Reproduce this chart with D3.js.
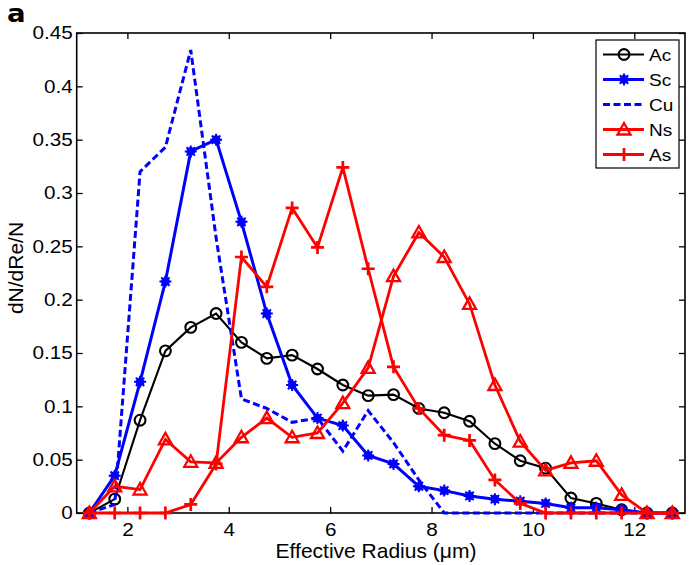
<!DOCTYPE html>
<html>
<head>
<meta charset="utf-8">
<script src="https://cdn.jsdelivr.net/npm/d3@7"></script>
<style>
  body { margin: 0; background: #fff; }
  text { font-family: "Liberation Sans", Arial, sans-serif; fill: #000; }
  text.panel { font-family: "DejaVu Sans", sans-serif; font-weight: bold; }
</style>
</head>
<body>
<script>
// effective radius bin centres (um)
var radius = [1.25, 1.75, 2.25, 2.75, 3.25, 3.75, 4.25, 4.75, 5.25, 5.75, 6.25, 6.75,
              7.25, 7.75, 8.25, 8.75, 9.25, 9.75, 10.25, 10.75, 11.25, 11.75, 12.25, 12.75];

// normalised size distributions
var acValues = [0, 0.013, 0.087, 0.152, 0.174, 0.187, 0.160, 0.145, 0.148, 0.135, 0.120, 0.110,
                0.111, 0.098, 0.094, 0.086, 0.065, 0.049, 0.042, 0.014, 0.009, 0.003, 0, 0];
var scValues = [0, 0.035, 0.123, 0.217, 0.339, 0.350, 0.273, 0.187, 0.120, 0.089, 0.082, 0.054,
                0.046, 0.025, 0.021, 0.016, 0.013, 0.011, 0.009, 0.005, 0.005, 0.003, 0, 0];
var cuValues = [0, 0.008, 0.320, 0.343, 0.434, 0.258, 0.107, 0.098, 0.085, 0.089, 0.058, 0.096,
                0.066, 0.031, 0, 0, 0, 0, 0, 0, 0, 0, 0, 0];
var nsValues = [0, 0.025, 0.022, 0.069, 0.048, 0.047, 0.071, 0.089, 0.071, 0.075, 0.103, 0.136,
                0.222, 0.263, 0.240, 0.196, 0.120, 0.067, 0.040, 0.047, 0.049, 0.017, 0, 0];
var asValues = [0, 0, 0, 0, 0.008, 0.046, 0.240, 0.212, 0.286, 0.249, 0.324, 0.229,
                0.137, 0.098, 0.073, 0.068, 0.031, 0.009, 0, 0, 0, 0, 0, 0];

var seriesNames = ["Ac", "Sc", "Cu", "Ns", "As"];
var xTicks = [2, 4, 6, 8, 10, 12];
var yTicks = [0, 0.05, 0.1, 0.15, 0.2, 0.25, 0.3, 0.35, 0.4, 0.45];

drawChart();

function drawChart() {
    var series = [
        {name: "Ac", values: acValues, color: "#000000", width: 2.1, dash: null, marker: "circle"},
        {name: "Sc", values: scValues, color: "#0000ff", width: 3, dash: null, marker: "star"},
        {name: "Cu", values: cuValues, color: "#0000ff", width: 3, dash: "7,3.5", marker: null},
        {name: "Ns", values: nsValues, color: "#ff0000", width: 2.8, dash: null, marker: "triangle"},
        {name: "As", values: asValues, color: "#ff0000", width: 2.8, dash: null, marker: "plus"}
    ];

    var width = 691, height = 565;
    var plotLeft = 76.7, plotRight = 685, plotTop = 33, plotBottom = 513;
    var sx = 1.15; // tick lettering in the original is a little wide

    var svg = d3.select("body").append("svg")
        .attr("width", width)
        .attr("height", height);

    svg.append("rect").attr("width", width).attr("height", height).attr("fill", "#fff");

    var x = d3.scaleLinear().domain([1, 13]).range([plotLeft, plotRight]);
    var y = d3.scaleLinear().domain([0, 0.45]).range([plotBottom, plotTop]);

    // axes, matlab style ticks pointing inwards
    var xAxis = svg.append("g")
        .attr("transform", "translate(0," + plotBottom + ")")
        .call(d3.axisBottom(x).tickValues(xTicks).tickFormat(d3.format("d"))
            .tickSizeInner(-6).tickSizeOuter(0).tickPadding(10));
    svg.append("g")
        .attr("transform", "translate(0," + plotTop + ")")
        .call(d3.axisTop(x).tickValues(xTicks).tickFormat("")
            .tickSizeInner(-6).tickSizeOuter(0));
    var yAxis = svg.append("g")
        .attr("transform", "translate(" + plotLeft + ",0)")
        .call(d3.axisLeft(y).tickValues(yTicks).tickFormat(function(d) { return String(+d.toFixed(2)); })
            .tickSizeInner(-6).tickSizeOuter(0).tickPadding(4));
    svg.append("g")
        .attr("transform", "translate(" + plotRight + ",0)")
        .call(d3.axisRight(y).tickValues(yTicks).tickFormat("")
            .tickSizeInner(-6).tickSizeOuter(0));

    svg.selectAll(".domain").remove();
    svg.selectAll(".tick line").attr("stroke", "#000").attr("stroke-width", 1.3);
    xAxis.selectAll("text")
        .attr("font-size", 18).attr("font-family", "Liberation Sans, Arial, sans-serif")
        .attr("transform", "scale(" + sx + ",1)");
    yAxis.selectAll("text")
        .attr("font-size", 18).attr("font-family", "Liberation Sans, Arial, sans-serif")
        .attr("x", -4 / sx)
        .attr("transform", "scale(" + sx + ",1)");

    // frame
    svg.append("rect")
        .attr("x", plotLeft).attr("y", plotTop)
        .attr("width", plotRight - plotLeft).attr("height", plotBottom - plotTop)
        .attr("fill", "none").attr("stroke", "#000").attr("stroke-width", 1.6);

    // marker drawing
    function drawMarker(g, type, color) {
        if (type == "circle") {
            g.append("circle").attr("r", 5.4)
                .attr("fill", "none").attr("stroke", color).attr("stroke-width", 2.1);
        } else if (type == "star") {
            g.append("circle").attr("r", 4.4).attr("fill", color);
            g.append("path").attr("d", "M-6,0H6M0,-6V6M-4.2,-4.2L4.2,4.2M-4.2,4.2L4.2,-4.2")
                .attr("stroke", color).attr("stroke-width", 2);
        } else if (type == "triangle") {
            g.append("path").attr("d", "M0,-6.5L6.5,5L-6.5,5Z")
                .attr("fill", "none").attr("stroke", color).attr("stroke-width", 2.3);
        } else if (type == "plus") {
            g.append("path").attr("d", "M-6.5,0H6.5M0,-6.5V6.5")
                .attr("stroke", color).attr("stroke-width", 2.7);
        }
    }

    var line = d3.line()
        .x(function(d, i) { return x(radius[i]); })
        .y(function(d) { return y(d); });

    series.forEach(function(s) {
        svg.append("path")
            .datum(s.values)
            .attr("d", line)
            .attr("fill", "none")
            .attr("stroke", s.color)
            .attr("stroke-width", s.width)
            .attr("stroke-dasharray", s.dash)
            .attr("stroke-linejoin", "miter");
        if (s.marker) {
            svg.selectAll(null)
                .data(s.values)
                .enter()
                .append("g")
                .attr("transform", function(d, i) { return "translate(" + x(radius[i]) + "," + y(d) + ")"; })
                .each(function() { drawMarker(d3.select(this), s.marker, s.color); });
        }
    });

    // legend
    var legend = svg.append("g").attr("transform", "translate(596,40)");
    legend.append("rect")
        .attr("width", 83).attr("height", 128)
        .attr("fill", "#fff").attr("stroke", "#000").attr("stroke-width", 1.2);
    series.forEach(function(s, i) {
        var row = legend.append("g").attr("transform", "translate(0," + (14.5 + i * 25) + ")");
        row.append("line")
            .attr("x1", 7).attr("x2", 48)
            .attr("stroke", s.color).attr("stroke-width", s.width)
            .attr("stroke-dasharray", s.dash);
        if (s.marker) drawMarker(row.append("g").attr("transform", "translate(28,0)"), s.marker, s.color);
        row.append("text")
            .attr("x", 53 / 1.12).attr("y", 6)
            .attr("font-size", 17)
            .attr("transform", "scale(1.12,1)")
            .text(seriesNames[i]);
    });

    // axis labels
    svg.append("text")
        .attr("x", 376).attr("y", 558)
        .attr("text-anchor", "middle")
        .attr("font-size", 21)
        .text("Effective Radius (\u03bcm)");
    svg.append("text")
        .attr("transform", "translate(23,268) rotate(-90)")
        .attr("text-anchor", "middle")
        .attr("font-size", 21)
        .text("dN/dRe/N");

    // panel letter
    svg.append("text")
        .attr("class", "panel")
        .attr("transform", "translate(7,22) scale(1.15,1)")
        .attr("font-size", 24)
        .text("a");
}
</script>
</body>
</html>
